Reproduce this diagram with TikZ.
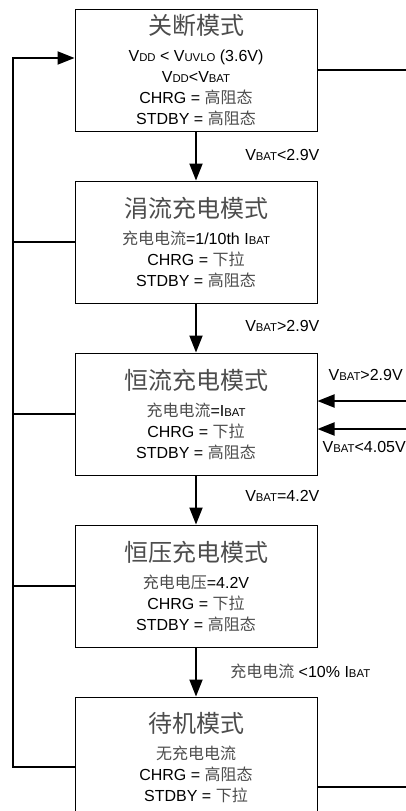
\documentclass[tikz,border=0pt]{standalone}
\usepackage{fontspec}
\setmainfont{Liberation Sans}
\newfontfamily\cjk{Noto Sans CJK SC}
\usetikzlibrary{arrows.meta}
\definecolor{zhgray}{gray}{0.3}
\newcommand\zh[1]{{\cjk\color{zhgray}#1}}
\newcommand\sbs[1]{{\fontsize{8.5}{10}\selectfont #1}}
\newcommand\modetitle[1]{{\fontsize{18}{20}\selectfont\zh{#1}}}
\tikzset{
  modebox/.style={draw,line width=0.75pt,minimum width=181.5pt,minimum height=91.5pt,align=center,font=\fontsize{12}{15.75}\selectfont},
  link/.style={line width=1.5pt},
  flow/.style={link,-{Triangle[length=12.75pt,width=9.75pt]}},
  cond/.style={font=\fontsize{12}{14}\selectfont,inner sep=0pt},
}
\begin{document}
\begin{tikzpicture}[x=0.75pt,y=-0.75pt]
    \clip (0,0) rectangle (406,811);
    %% modes
    \node[modebox] (off) at (196,70) {\modetitle{关断模式}\\[4.5pt]
        V\sbs{DD} < V\sbs{UVLO} (3.6V)\\ V\sbs{DD}<V\sbs{BAT}\\ CHRG = \zh{高阻态}\\ STDBY = \zh{高阻态}};
    \node[modebox,anchor=north] (trickle) at ([yshift=-36.75pt]off.south) {\modetitle{涓流充电模式}\\[4.5pt]
        \zh{充电电流}=1/10th I\sbs{BAT}\\ CHRG = \zh{下拉}\\ STDBY = \zh{高阻态}};
    \node[modebox,anchor=north] (cc) at ([yshift=-36.75pt]trickle.south) {\modetitle{恒流充电模式}\\[4.5pt]
        \zh{充电电流}=I\sbs{BAT}\\ CHRG = \zh{下拉}\\ STDBY = \zh{高阻态}};
    \node[modebox,anchor=north] (cv) at ([yshift=-36.75pt]cc.south) {\modetitle{恒压充电模式}\\[4.5pt]
        \zh{充电电压}=4.2V\\ CHRG = \zh{下拉}\\ STDBY = \zh{高阻态}};
    \node[modebox,anchor=north] (standby) at ([yshift=-36.75pt]cv.south) {\modetitle{待机模式}\\[4.5pt]
        \zh{无充电电流}\\ CHRG = \zh{高阻态}\\ STDBY = \zh{下拉}};
    %% conditions
    \node[cond,anchor=west] (c12) at (245,155) {V\sbs{BAT}<2.9V};
    \node[cond,anchor=west] (c23) at (245,326) {V\sbs{BAT}>2.9V};
    \node[cond,anchor=west] (c34) at (245,496) {V\sbs{BAT}=4.2V};
    \node[cond,anchor=west] (c45) at (230,671) {\zh{充电电流} <10\% I\sbs{BAT}};
    \node[cond,anchor=east] (c3a) at (403,375) {V\sbs{BAT}>2.9V};
    \node[cond,anchor=east] (c3b) at (406,447) {V\sbs{BAT}<4.05V};
    %% main flow
    \draw[flow] (off) -- (trickle);
    \draw[flow] (trickle) -- (cc);
    \draw[flow] (cc) -- (cv);
    \draw[flow] (cv) -- (standby);
    %% return loop on the left
    \coordinate (lt) at (13,58);
    \coordinate (lb) at (13,767);
    \draw[flow] (standby.west |- lb) -- (lb) -- (lt) -- (off.west |- lt);
    \foreach \m in {trickle,cc,cv}
        \draw[link] (\m.west) -- (\m.west -| lt);
    %% lines on the right
    \coordinate (ro) at (406,70);
    \coordinate (rs) at (406,787);
    \coordinate (ra) at (406,401);
    \coordinate (rb) at (406,429);
    \draw[link] (off.east) -- (off.east -| ro);
    \draw[link] (standby.east |- rs) -- (rs);
    \draw[flow] (ra) -- (cc.east |- ra);
    \draw[flow] (rb) -- (cc.east |- rb);
\end{tikzpicture}
\end{document}
